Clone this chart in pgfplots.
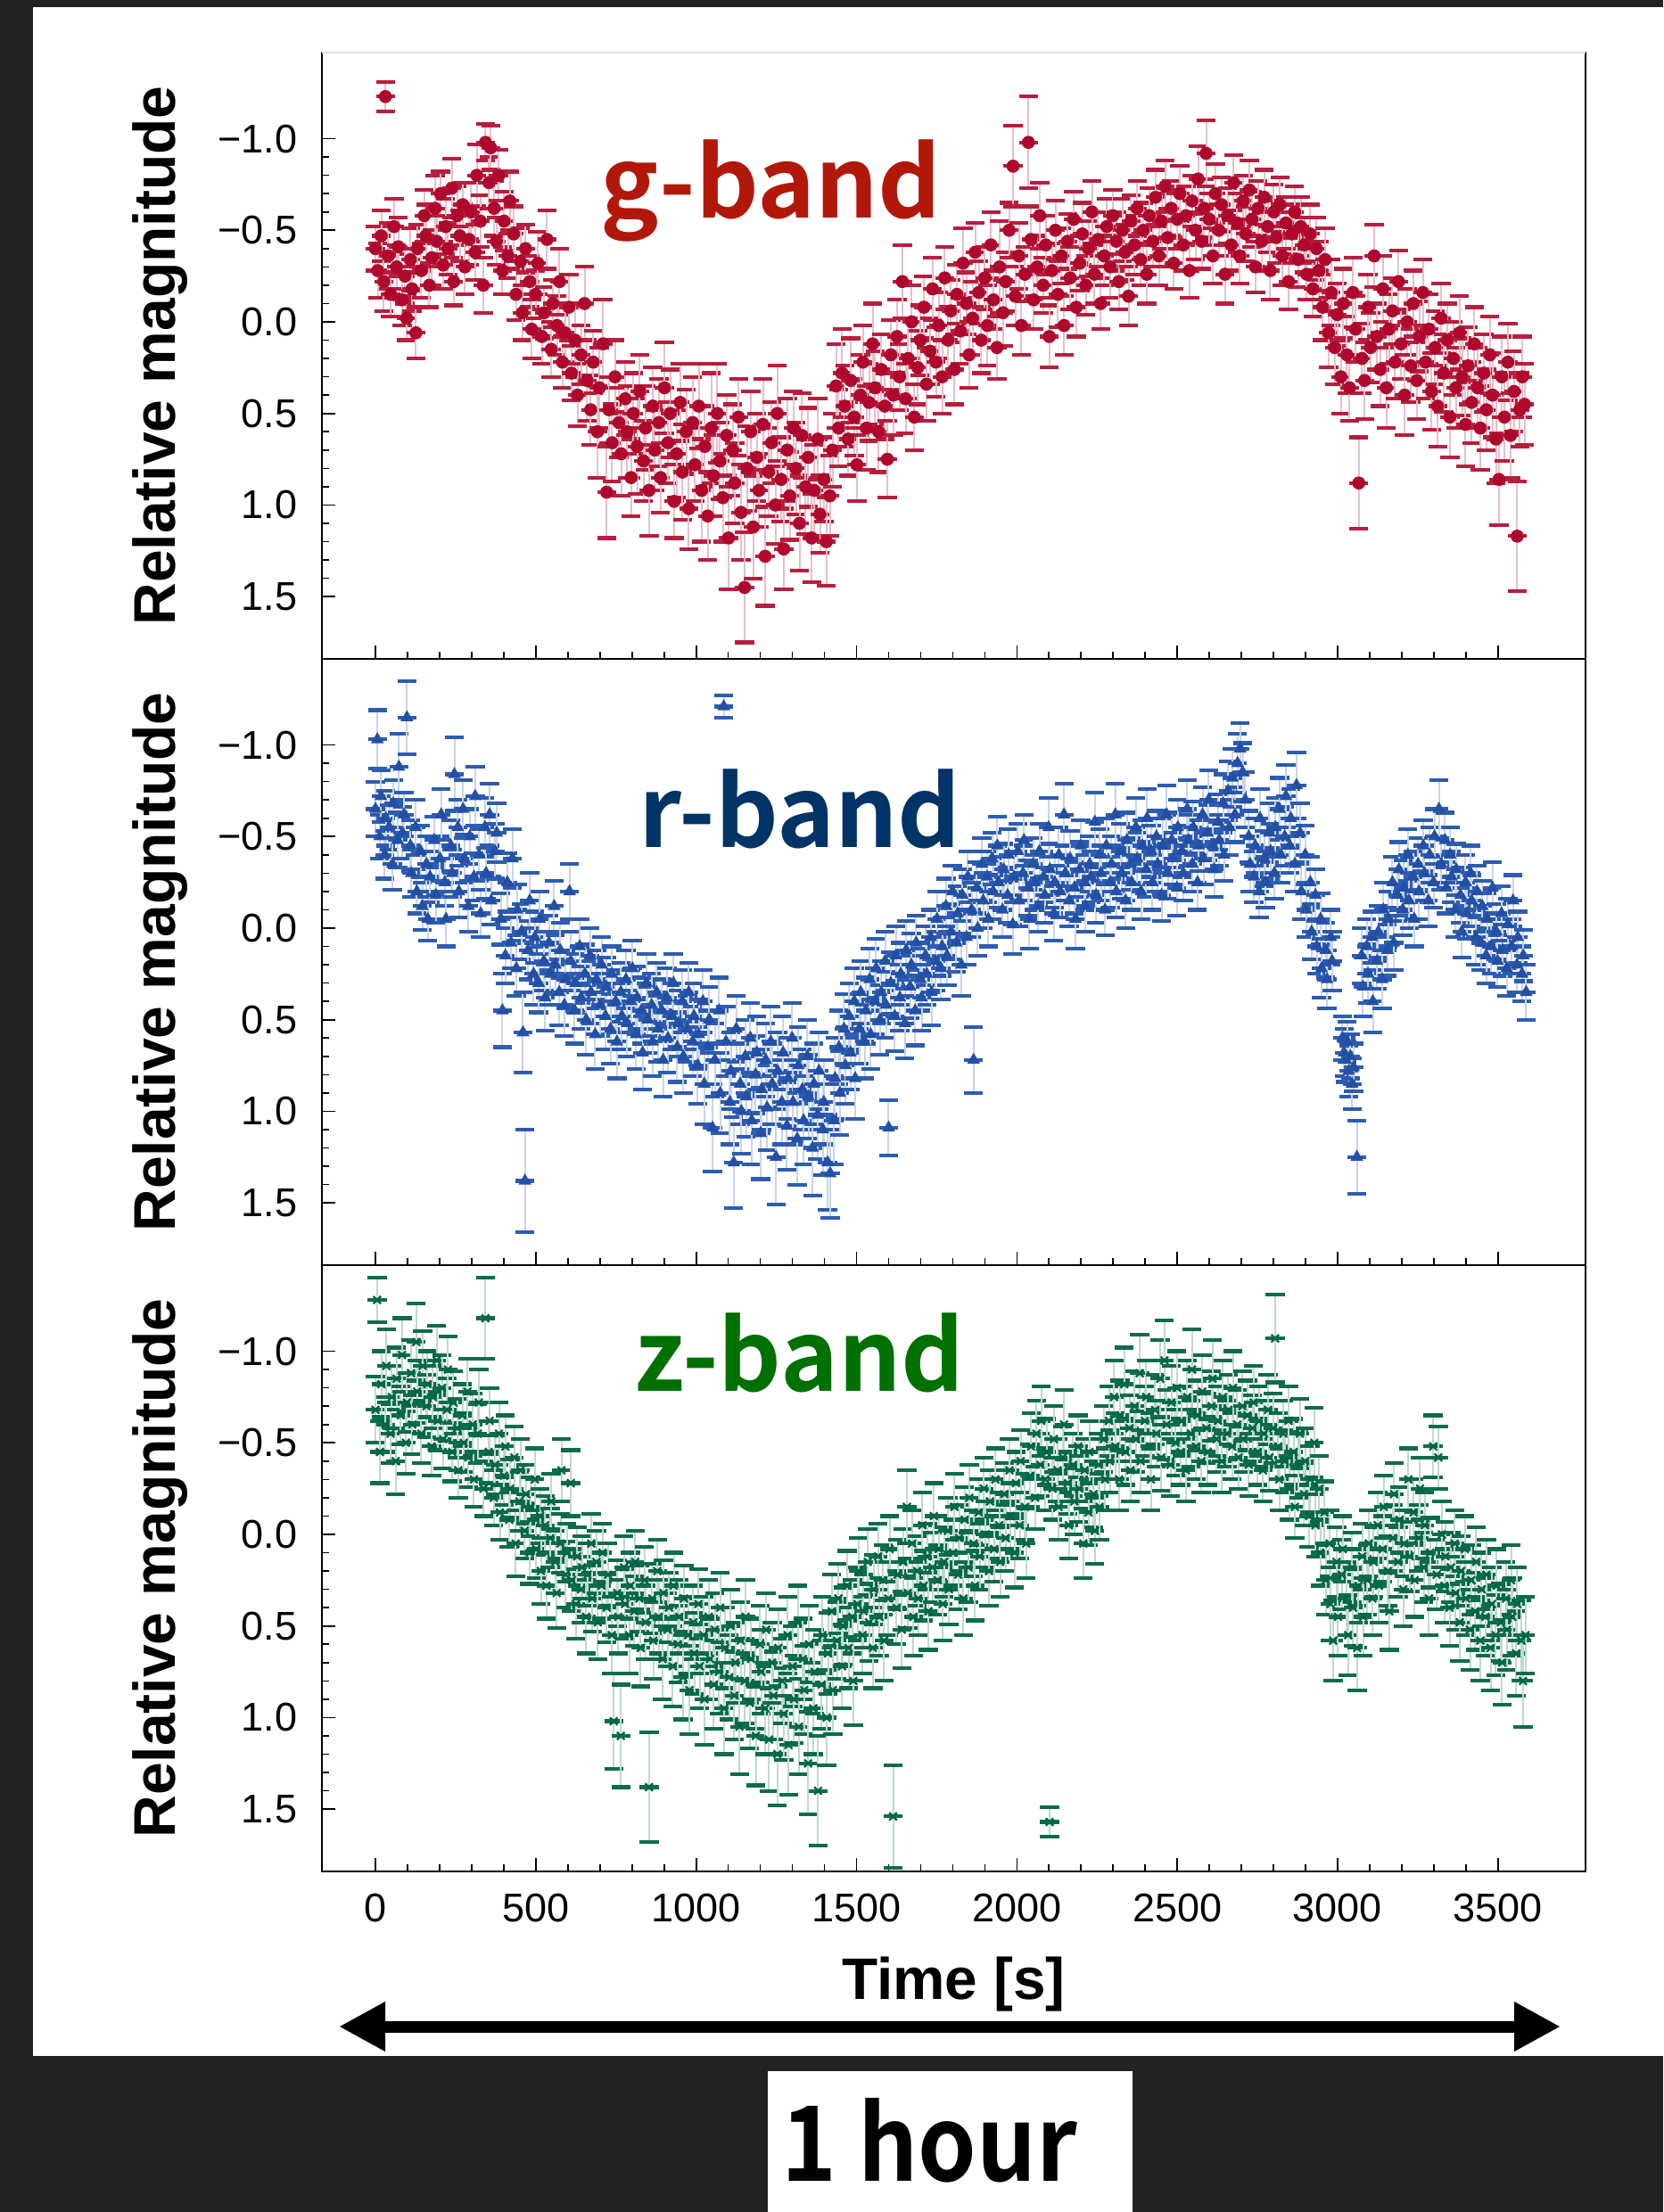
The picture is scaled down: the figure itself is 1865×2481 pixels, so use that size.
\documentclass[border=0pt]{standalone}
\usepackage{pgfplots}
\usepackage{pgfplotstable}
\usepackage{graphicx}
\pgfplotsset{compat=1.18}
\usepackage{fontspec}
\setmainfont{Liberation Sans}
\newfontfamily\cjkfont{Noto Sans CJK JP}[BoldFont={Noto Sans CJK JP Bold}]
\usetikzlibrary{arrows.meta}

\definecolor{bgdark}{RGB}{34,34,34}
\definecolor{gtext}{RGB}{178,24,10}
\definecolor{rtext}{RGB}{0,51,102}
\definecolor{ztext}{RGB}{0,112,0}
\definecolor{gmark}{RGB}{175,8,45}
\definecolor{gbar}{RGB}{232,190,202}
\definecolor{gcap}{RGB}{185,30,60}
\definecolor{rmark}{RGB}{35,80,165}
\definecolor{rbar}{RGB}{200,212,232}
\definecolor{rcap}{RGB}{45,92,178}
\definecolor{zmark}{RGB}{0,100,70}
\definecolor{zbar}{RGB}{192,216,206}
\definecolor{zcap}{RGB}{12,108,78}

\pgfkeys{/pgfplots/error bars/draw error bar/.code 2 args={%
  \draw[ebar] #1 -- #2;
  \draw[ecap] #1 ++(-3.2pt,0pt) -- ++(6.4pt,0pt) #2 ++(-3.2pt,0pt) -- ++(6.4pt,0pt);}}

\pgfplotstableread{
t m e
0 -0.40 0.12
7 -0.28 0.15
18 -0.47 0.14
26 -0.22 0.16
31 -1.23 0.08
40 -0.36 0.18
47 -0.15 0.12
58 -0.52 0.15
66 -0.30 0.12
71 -0.41 0.16
83 -0.12 0.14
92 -0.25 0.15
97 -0.02 0.12
109 -0.34 0.17
114 -0.18 0.12
126 0.06 0.14
131 -0.40 0.13
143 -0.28 0.15
152 -0.58 0.14
157 -0.47 0.17
168 -0.20 0.12
176 -0.35 0.15
186 -0.62 0.18
191 -0.44 0.14
203 -0.70 0.12
211 -0.31 0.13
219 -0.52 0.15
226 -0.40 0.14
238 -0.73 0.16
244 -0.22 0.13
255 -0.58 0.16
263 -0.47 0.14
272 -0.64 0.12
279 -0.30 0.15
292 -0.45 0.14
298 -0.60 0.16
311 -0.38 0.15
316 -0.80 0.17
327 -0.55 0.14
336 -0.20 0.15
343 -0.98 0.10
354 -0.76 0.14
359 -0.95 0.12
370 -0.62 0.15
377 -0.44 0.13
384 -0.80 0.14
396 -0.28 0.13
401 -0.55 0.16
413 -0.36 0.12
419 -0.66 0.16
431 -0.48 0.15
438 -0.15 0.14
452 -0.33 0.18
458 -0.05 0.15
468 -0.40 0.13
481 -0.22 0.14
487 0.04 0.16
499 -0.15 0.13
506 -0.32 0.17
519 0.08 0.15
526 -0.05 0.14
535 -0.45 0.16
548 0.15 0.15
553 -0.10 0.13
566 0.02 0.16
574 -0.22 0.18
583 0.22 0.14
591 0.06 0.16
603 -0.08 0.18
611 0.28 0.15
622 0.10 0.20
630 0.40 0.17
641 0.18 0.16
652 -0.10 0.20
660 0.32 0.22
671 0.48 0.19
679 0.22 0.17
692 0.60 0.25
698 0.36 0.22
709 0.12 0.24
721 0.93 0.25
728 0.48 0.18
738 0.66 0.21
747 0.30 0.20
759 0.55 0.19
766 0.72 0.23
779 0.42 0.20
785 0.60 0.25
797 0.85 0.21
804 0.50 0.22
816 0.68 0.26
824 0.38 0.20
836 0.76 0.22
842 0.58 0.23
853 0.92 0.25
865 0.46 0.21
871 0.70 0.22
884 0.55 0.24
889 0.85 0.19
901 0.36 0.25
912 0.66 0.22
919 0.50 0.24
931 0.98 0.20
939 0.72 0.24
950 0.44 0.21
957 0.82 0.26
969 0.60 0.23
977 1.02 0.22
989 0.55 0.25
996 0.78 0.20
1008 0.46 0.23
1017 0.92 0.28
1027 0.68 0.22
1036 1.06 0.24
1047 0.58 0.30
1054 0.84 0.22
1066 0.50 0.27
1074 0.76 0.21
1083 0.96 0.24
1095 0.62 0.22
1101 1.18 0.28
1114 0.70 0.25
1120 0.88 0.22
1132 0.52 0.21
1140 1.04 0.26
1151 1.45 0.30
1159 0.80 0.23
1170 0.60 0.22
1178 1.12 0.28
1189 0.74 0.24
1196 0.92 0.20
1208 0.56 0.25
1215 1.28 0.27
1226 0.82 0.24
1235 0.66 0.22
1247 1.00 0.21
1253 0.50 0.26
1265 0.86 0.23
1273 1.24 0.22
1284 0.70 0.28
1292 0.95 0.24
1303 0.58 0.20
1311 0.80 0.25
1322 1.10 0.26
1330 0.62 0.23
1341 0.90 0.26
1349 0.74 0.27
1360 1.18 0.24
1368 0.92 0.25
1379 0.64 0.22
1386 1.05 0.21
1398 0.86 0.23
1406 1.20 0.24
1417 0.95 0.22
1425 0.70 0.20
1436 0.35 0.23
1444 0.58 0.21
1455 0.28 0.24
1463 0.46 0.22
1474 0.64 0.20
1482 0.32 0.23
1493 0.52 0.21
1501 0.78 0.20
1512 0.40 0.22
1520 0.22 0.20
1531 0.58 0.23
1539 0.44 0.21
1550 0.12 0.22
1558 0.36 0.20
1569 0.60 0.22
1577 0.26 0.19
1588 0.46 0.18
1596 0.75 0.21
1607 0.18 0.19
1615 0.40 0.22
1626 0.08 0.20
1634 0.30 0.18
1643 -0.22 0.20
1653 0.42 0.19
1661 0.20 0.22
1672 0.00 0.20
1680 0.52 0.18
1691 0.25 0.20
1699 0.10 0.19
1710 -0.08 0.17
1718 0.34 0.20
1729 0.16 0.18
1737 -0.18 0.17
1748 0.22 0.19
1756 0.02 0.18
1767 0.30 0.20
1775 -0.24 0.17
1786 0.10 0.18
1794 -0.06 0.17
1805 0.26 0.19
1813 -0.15 0.16
1824 0.05 0.18
1832 -0.32 0.19
1843 -0.10 0.17
1851 0.18 0.18
1862 -0.02 0.20
1870 -0.38 0.16
1881 -0.16 0.17
1889 0.10 0.18
1900 -0.24 0.17
1908 0.02 0.22
1919 -0.42 0.18
1927 -0.12 0.16
1938 0.14 0.17
1946 -0.30 0.25
1957 -0.05 0.18
1965 -0.22 0.16
1976 -0.50 0.15
1988 -0.85 0.22
1995 -0.14 0.16
2006 -0.36 0.18
2014 0.02 0.16
2025 -0.26 0.15
2036 -0.98 0.25
2044 -0.45 0.18
2052 -0.12 0.16
2063 -0.30 0.17
2071 -0.58 0.18
2082 -0.20 0.15
2090 -0.42 0.16
2101 0.08 0.17
2109 -0.28 0.15
2120 -0.50 0.16
2128 -0.15 0.18
2139 -0.36 0.15
2147 0.02 0.16
2158 -0.44 0.15
2166 -0.24 0.17
2177 -0.56 0.15
2185 -0.08 0.16
2196 -0.32 0.15
2204 -0.48 0.17
2215 -0.20 0.16
2223 -0.40 0.15
2234 -0.60 0.17
2242 -0.26 0.16
2253 -0.45 0.15
2261 -0.10 0.14
2272 -0.36 0.16
2280 -0.52 0.15
2291 -0.30 0.17
2299 -0.58 0.14
2310 -0.44 0.16
2318 -0.22 0.15
2329 -0.50 0.17
2337 -0.38 0.15
2348 -0.14 0.16
2356 -0.55 0.14
2367 -0.42 0.16
2375 -0.62 0.15
2386 -0.34 0.14
2394 -0.50 0.15
2405 -0.26 0.16
2413 -0.58 0.15
2424 -0.44 0.14
2432 -0.68 0.15
2443 -0.36 0.16
2451 -0.55 0.15
2462 -0.74 0.14
2470 -0.46 0.16
2481 -0.62 0.15
2489 -0.32 0.14
2500 -0.56 0.16
2508 -0.70 0.15
2519 -0.42 0.14
2527 -0.58 0.16
2538 -0.28 0.15
2546 -0.66 0.14
2557 -0.50 0.16
2565 -0.78 0.18
2576 -0.44 0.15
2584 -0.62 0.16
2590 -0.92 0.18
2600 -0.56 0.14
2611 -0.36 0.15
2619 -0.70 0.16
2630 -0.50 0.14
2638 -0.64 0.15
2649 -0.26 0.16
2657 -0.58 0.15
2668 -0.42 0.14
2676 -0.76 0.15
2687 -0.54 0.16
2695 -0.36 0.15
2706 -0.66 0.14
2714 -0.48 0.15
2725 -0.72 0.16
2733 -0.56 0.15
2744 -0.30 0.14
2752 -0.62 0.15
2763 -0.44 0.16
2771 -0.68 0.15
2782 -0.52 0.14
2790 -0.28 0.16
2801 -0.60 0.15
2809 -0.46 0.14
2820 -0.64 0.15
2828 -0.36 0.16
2839 -0.54 0.14
2847 -0.22 0.15
2858 -0.48 0.16
2866 -0.60 0.14
2877 -0.34 0.15
2885 -0.52 0.16
2896 -0.42 0.15
2904 -0.26 0.14
2915 -0.48 0.16
2923 -0.18 0.15
2934 -0.40 0.17
2942 -0.28 0.16
2953 -0.08 0.18
2961 -0.34 0.17
2972 0.06 0.19
2980 -0.16 0.18
2991 0.14 0.20
2999 -0.04 0.17
3010 0.30 0.20
3018 -0.10 0.19
3029 0.18 0.21
3037 0.36 0.18
3048 -0.16 0.19
3056 0.04 0.18
3066 0.88 0.25
3076 0.20 0.19
3084 0.32 0.21
3095 -0.08 0.18
3103 0.14 0.19
3114 -0.36 0.17
3122 0.08 0.18
3133 0.26 0.20
3141 -0.18 0.18
3152 0.36 0.22
3160 0.04 0.19
3171 -0.06 0.18
3179 0.22 0.20
3190 -0.22 0.17
3198 0.12 0.19
3209 0.40 0.22
3217 0.00 0.18
3228 0.24 0.20
3236 -0.10 0.18
3247 0.32 0.21
3255 0.08 0.19
3266 -0.16 0.18
3274 0.22 0.20
3285 0.04 0.19
3293 0.38 0.21
3304 0.14 0.20
3312 0.46 0.22
3323 -0.02 0.19
3331 0.28 0.21
3342 0.10 0.20
3350 0.52 0.22
3361 0.20 0.20
3369 0.36 0.22
3380 0.06 0.20
3388 0.30 0.21
3399 0.56 0.23
3407 0.24 0.21
3418 0.44 0.22
3426 0.12 0.20
3437 0.36 0.22
3445 0.58 0.23
3456 0.28 0.21
3464 0.48 0.22
3475 0.18 0.21
3483 0.40 0.23
3494 0.64 0.24
3503 0.86 0.25
3512 0.30 0.22
3520 0.52 0.24
3531 0.22 0.21
3539 0.62 0.23
3550 0.38 0.22
3560 1.17 0.30
3568 0.48 0.20
3576 0.30 0.22
3583 0.45 0.22
}\gdata

\pgfplotstableread{
t m e
0 -0.65 0.15
6 -1.03 0.16
13 -0.50 0.12
17 -0.72 0.14
29 -0.40 0.13
32 -0.60 0.15
43 -0.55 0.12
53 -0.35 0.14
56 -0.68 0.13
69 -0.48 0.15
73 -0.88 0.18
84 -0.52 0.14
89 -0.62 0.12
98 -1.15 0.20
109 -0.45 0.14
112 -0.30 0.13
125 -0.55 0.15
129 -0.20 0.12
141 -0.42 0.14
146 -0.12 0.13
159 -0.35 0.15
163 -0.05 0.12
170 -0.28 0.14
183 -0.48 0.13
188 -0.18 0.15
201 -0.38 0.12
205 -0.62 0.14
216 -0.25 0.13
220 -0.05 0.15
235 -0.45 0.14
239 -0.30 0.13
246 -0.84 0.20
257 -0.55 0.15
260 -0.20 0.14
273 -0.65 0.16
277 -0.38 0.13
290 -0.12 0.14
294 -0.50 0.15
307 -0.28 0.13
311 -0.72 0.16
323 -0.40 0.14
328 -0.08 0.13
341 -0.55 0.16
345 -0.30 0.14
356 -0.62 0.17
361 -0.15 0.13
373 -0.42 0.15
378 -0.52 0.16
391 -0.05 0.14
396 0.45 0.20
405 0.15 0.15
411 -0.25 0.16
423 0.08 0.14
427 -0.38 0.16
439 0.22 0.15
442 -0.10 0.14
455 0.02 0.15
460 0.57 0.22
466 1.38 0.28
476 0.12 0.16
481 -0.15 0.15
493 0.25 0.17
497 0.05 0.14
509 0.30 0.16
512 -0.05 0.15
525 0.18 0.16
529 0.38 0.18
541 0.08 0.15
545 0.25 0.17
557 -0.12 0.14
561 0.20 0.16
573 0.35 0.18
576 0.12 0.15
589 0.42 0.17
593 0.28 0.16
605 -0.20 0.15
609 0.18 0.16
621 0.45 0.18
624 0.30 0.16
637 0.10 0.15
641 0.38 0.17
653 0.25 0.16
657 0.50 0.19
669 0.15 0.15
672 0.35 0.17
685 0.58 0.19
689 0.28 0.16
701 0.42 0.17
705 0.20 0.15
717 0.48 0.18
720 0.32 0.16
733 0.55 0.19
737 0.25 0.15
749 0.40 0.17
753 0.62 0.20
765 0.35 0.16
768 0.48 0.18
781 0.28 0.16
785 0.52 0.18
797 0.40 0.17
801 0.22 0.15
813 0.58 0.19
816 0.38 0.17
829 0.45 0.18
833 0.68 0.20
845 0.30 0.16
849 0.50 0.18
861 0.42 0.17
864 0.62 0.19
877 0.35 0.16
881 0.55 0.18
893 0.45 0.17
897 0.72 0.20
909 0.38 0.16
912 0.60 0.19
925 0.48 0.18
929 0.30 0.16
941 0.65 0.19
945 0.52 0.18
957 0.40 0.17
960 0.70 0.20
973 0.55 0.18
977 0.35 0.16
989 0.62 0.19
993 0.48 0.18
1005 0.75 0.21
1008 0.58 0.19
1021 0.40 0.17
1025 0.85 0.22
1037 0.65 0.20
1041 0.50 0.18
1051 1.09 0.24
1058 0.72 0.20
1071 0.45 0.18
1075 0.90 0.22
1086 -1.21 0.06
1093 0.62 0.19
1105 0.95 0.23
1108 0.78 0.21
1117 1.28 0.25
1125 0.55 0.18
1137 0.85 0.22
1141 1.00 0.23
1153 0.70 0.20
1156 0.92 0.22
1169 0.60 0.19
1173 1.05 0.24
1185 0.80 0.21
1189 0.68 0.20
1201 1.12 0.25
1204 0.88 0.22
1217 0.72 0.20
1221 0.98 0.23
1233 0.62 0.19
1237 0.85 0.22
1249 1.25 0.26
1254 0.78 0.21
1267 0.95 0.23
1271 0.68 0.20
1283 1.08 0.24
1287 0.82 0.22
1299 0.60 0.19
1302 0.95 0.23
1315 1.15 0.25
1319 0.75 0.21
1331 0.88 0.22
1335 1.05 0.24
1347 0.70 0.20
1350 0.92 0.23
1363 1.20 0.26
1367 0.85 0.22
1379 1.02 0.24
1383 0.78 0.21
1395 1.10 0.25
1398 0.95 0.23
1410 1.28 0.26
1418 1.34 0.24
1429 1.05 0.24
1433 0.82 0.22
1445 0.65 0.20
1448 0.90 0.23
1461 0.55 0.19
1465 0.75 0.21
1477 0.48 0.18
1481 0.68 0.20
1493 0.40 0.18
1496 0.82 0.22
1509 0.55 0.19
1513 0.35 0.17
1525 0.62 0.20
1529 0.45 0.18
1541 0.28 0.17
1544 0.58 0.19
1557 0.40 0.18
1561 0.22 0.16
1573 0.50 0.19
1577 0.35 0.17
1589 0.18 0.16
1592 0.42 0.18
1600 1.09 0.15
1607 0.30 0.17
1619 0.48 0.19
1623 0.15 0.16
1635 0.38 0.18
1638 0.25 0.17
1651 0.52 0.19
1655 0.12 0.16
1667 0.32 0.17
1671 0.20 0.17
1683 0.45 0.19
1686 0.08 0.15
1699 0.28 0.17
1703 0.38 0.18
1715 0.15 0.16
1719 0.25 0.17
1731 0.05 0.15
1734 0.35 0.18
1747 0.18 0.16
1751 -0.05 0.15
1763 0.22 0.17
1767 0.10 0.16
1779 -0.12 0.15
1782 0.15 0.16
1795 0.02 0.15
1799 -0.20 0.14
1811 0.08 0.16
1815 -0.08 0.15
1827 0.20 0.17
1830 -0.18 0.14
1843 0.05 0.15
1847 -0.28 0.14
1859 -0.10 0.15
1865 0.72 0.18
1875 -0.22 0.14
1878 0.00 0.15
1891 -0.35 0.14
1895 -0.15 0.15
1907 -0.28 0.14
1911 -0.05 0.15
1923 -0.38 0.14
1926 -0.20 0.15
1939 -0.45 0.16
1943 -0.25 0.14
1955 -0.10 0.15
1959 -0.32 0.14
1971 -0.18 0.15
1974 -0.40 0.14
1987 -0.02 0.16
1991 -0.28 0.14
2003 -0.42 0.15
2007 -0.15 0.14
2019 -0.30 0.15
2022 -0.48 0.14
2035 -0.22 0.15
2039 -0.05 0.16
2051 -0.35 0.14
2055 -0.25 0.15
2067 -0.12 0.14
2070 -0.42 0.15
2083 -0.28 0.14
2087 -0.18 0.15
2099 -0.55 0.16
2103 -0.32 0.14
2115 -0.08 0.15
2118 -0.25 0.14
2131 -0.40 0.15
2135 -0.20 0.14
2147 -0.62 0.17
2151 -0.30 0.15
2163 -0.15 0.14
2166 -0.38 0.15
2179 -0.22 0.14
2183 -0.05 0.16
2195 -0.32 0.15
2199 -0.45 0.14
2211 -0.25 0.15
2214 -0.12 0.14
2227 -0.35 0.15
2231 -0.28 0.14
2243 -0.58 0.16
2247 -0.18 0.15
2259 -0.40 0.14
2262 -0.30 0.15
2275 -0.10 0.14
2279 -0.45 0.15
2291 -0.25 0.14
2295 -0.35 0.15
2307 -0.62 0.17
2310 -0.20 0.14
2323 -0.42 0.15
2327 -0.30 0.14
2339 -0.15 0.15
2343 -0.48 0.15
2355 -0.35 0.14
2358 -0.25 0.15
2371 -0.55 0.16
2375 -0.38 0.14
2387 -0.20 0.15
2391 -0.45 0.14
2403 -0.32 0.15
2406 -0.60 0.16
2419 -0.42 0.14
2423 -0.25 0.15
2435 -0.50 0.14
2439 -0.35 0.15
2451 -0.18 0.14
2454 -0.45 0.15
2467 -0.62 0.16
2471 -0.30 0.14
2483 -0.48 0.15
2487 -0.38 0.14
2499 -0.22 0.15
2502 -0.55 0.15
2515 -0.42 0.14
2519 -0.30 0.15
2531 -0.65 0.16
2535 -0.48 0.14
2547 -0.35 0.15
2550 -0.55 0.14
2563 -0.25 0.15
2567 -0.45 0.14
2579 -0.62 0.15
2583 -0.38 0.14
2595 -0.52 0.15
2598 -0.70 0.16
2611 -0.45 0.14
2615 -0.32 0.15
2627 -0.58 0.15
2631 -0.48 0.14
2643 -0.68 0.16
2646 -0.40 0.14
2659 -0.75 0.16
2663 -0.55 0.15
2672 -0.82 0.16
2680 -0.62 0.15
2688 -0.90 0.16
2696 -0.98 0.14
2704 -0.85 0.16
2712 -0.70 0.15
2723 -0.50 0.14
2727 -0.35 0.15
2739 -0.28 0.14
2743 -0.45 0.15
2755 -0.20 0.14
2758 -0.60 0.16
2771 -0.38 0.15
2775 -0.25 0.14
2787 -0.52 0.16
2791 -0.42 0.15
2803 -0.30 0.14
2806 -0.55 0.16
2819 -0.65 0.17
2823 -0.40 0.15
2835 -0.50 0.16
2839 -0.72 0.17
2851 -0.45 0.15
2854 -0.60 0.16
2867 -0.35 0.15
2872 -0.78 0.18
2883 -0.52 0.16
2887 -0.20 0.15
2899 -0.40 0.16
2902 -0.10 0.15
2915 -0.25 0.14
2919 0.02 0.15
2931 -0.18 0.14
2935 0.10 0.15
2947 -0.05 0.14
2950 0.22 0.16
2963 0.12 0.15
2967 0.28 0.16
2979 0.05 0.15
2983 0.18 0.16
3015 0.60 0.12
3020 0.68 0.13
3025 0.72 0.12
3030 0.62 0.11
3035 0.78 0.14
3040 0.70 0.12
3045 0.85 0.14
3050 0.76 0.13
3060 1.25 0.20
3075 0.15 0.15
3079 0.32 0.16
3091 0.10 0.15
3095 0.25 0.16
3107 0.05 0.14
3110 0.40 0.17
3123 0.18 0.15
3127 0.02 0.14
3139 0.28 0.16
3143 -0.10 0.15
3155 0.12 0.14
3158 -0.05 0.15
3171 -0.25 0.14
3175 0.08 0.15
3187 -0.18 0.14
3191 -0.32 0.15
3203 -0.10 0.14
3206 -0.22 0.15
3219 -0.40 0.14
3223 -0.15 0.15
3235 -0.28 0.14
3239 -0.05 0.15
3251 -0.35 0.14
3254 -0.20 0.15
3267 -0.45 0.14
3271 -0.30 0.15
3283 -0.15 0.14
3287 -0.40 0.15
3299 -0.25 0.14
3302 -0.50 0.15
3316 -0.65 0.16
3323 -0.35 0.14
3335 -0.48 0.15
3339 -0.22 0.14
3351 -0.40 0.15
3355 -0.28 0.14
3367 -0.10 0.15
3370 -0.32 0.14
3383 -0.18 0.15
3387 0.02 0.14
3399 -0.25 0.15
3403 -0.08 0.14
3415 -0.30 0.15
3418 -0.15 0.14
3431 0.05 0.15
3435 -0.20 0.14
3447 0.08 0.15
3451 -0.12 0.14
3463 0.15 0.15
3466 -0.05 0.14
3479 0.10 0.15
3483 -0.22 0.14
3495 0.02 0.15
3499 0.18 0.14
3511 -0.08 0.15
3514 0.12 0.14
3527 0.22 0.15
3531 -0.02 0.14
3543 0.10 0.15
3547 -0.15 0.14
3559 0.20 0.15
3562 0.05 0.14
3575 0.25 0.15
3579 0.15 0.14
3588 0.35 0.15
}\rdata

\pgfplotstableread{
t m e
0 -0.68 0.18
5 -1.28 0.12
14 -0.45 0.17
18 -0.82 0.18
31 -0.60 0.15
34 -0.92 0.20
47 -0.55 0.16
51 -0.75 0.17
63 -0.40 0.18
66 -0.85 0.17
79 -0.65 0.16
83 -0.98 0.20
95 -0.50 0.17
98 -0.72 0.16
111 -0.88 0.18
115 -0.60 0.16
127 -1.05 0.21
130 -0.78 0.17
143 -0.55 0.16
147 -0.92 0.19
159 -0.70 0.17
162 -0.82 0.18
175 -0.48 0.16
179 -0.75 0.17
191 -0.95 0.19
194 -0.62 0.16
207 -0.80 0.18
211 -0.52 0.16
223 -0.68 0.17
226 -0.90 0.18
239 -0.45 0.16
243 -0.72 0.17
255 -0.58 0.16
258 -0.35 0.15
271 -0.65 0.17
275 -0.50 0.16
287 -0.78 0.18
290 -0.42 0.16
303 -0.60 0.17
307 -0.30 0.15
319 -0.55 0.16
322 -0.72 0.18
337 -0.25 0.15
343 -1.18 0.22
353 -0.45 0.17
356 -0.62 0.18
369 -0.20 0.15
373 -0.38 0.16
385 -0.55 0.17
388 -0.12 0.15
401 -0.32 0.16
405 -0.48 0.17
417 -0.08 0.15
420 -0.25 0.16
433 -0.42 0.17
437 0.05 0.18
449 -0.18 0.16
452 -0.35 0.17
465 -0.02 0.15
469 -0.22 0.16
481 0.10 0.17
484 -0.15 0.16
497 -0.30 0.17
501 0.08 0.16
513 -0.10 0.15
516 0.20 0.18
529 -0.05 0.16
533 0.28 0.18
545 0.02 0.16
548 -0.18 0.15
561 0.15 0.17
565 0.32 0.19
577 0.05 0.16
580 -0.35 0.17
593 0.22 0.18
597 0.10 0.16
609 -0.28 0.18
612 0.25 0.17
625 0.38 0.19
629 0.12 0.16
641 0.30 0.18
644 0.18 0.17
657 0.45 0.20
661 0.22 0.17
673 0.05 0.16
676 0.35 0.18
689 0.15 0.17
693 0.48 0.20
705 0.28 0.18
708 0.10 0.16
721 0.40 0.19
725 0.22 0.17
737 0.55 0.21
743 1.02 0.26
754 0.32 0.18
757 0.45 0.20
765 1.10 0.28
775 0.18 0.17
778 0.38 0.19
791 0.55 0.21
795 0.28 0.18
807 0.42 0.19
810 0.15 0.17
823 0.35 0.18
827 0.62 0.21
839 0.25 0.18
842 0.48 0.20
853 1.38 0.30
863 0.35 0.19
866 0.58 0.21
879 0.20 0.17
883 0.45 0.20
895 0.68 0.22
898 0.32 0.18
911 0.52 0.20
915 0.40 0.19
927 0.72 0.22
930 0.28 0.18
943 0.60 0.21
947 0.45 0.20
959 0.78 0.23
962 0.35 0.18
975 0.55 0.21
979 0.85 0.24
991 0.48 0.20
994 0.65 0.22
1007 0.38 0.19
1011 0.72 0.23
1023 0.55 0.21
1026 0.90 0.25
1039 0.45 0.20
1043 0.68 0.22
1055 0.82 0.24
1058 0.52 0.20
1071 0.75 0.23
1075 0.40 0.19
1087 0.95 0.25
1090 0.62 0.22
1103 0.78 0.23
1107 0.50 0.20
1119 0.88 0.24
1122 0.70 0.22
1135 1.05 0.26
1139 0.58 0.21
1151 0.80 0.23
1154 0.45 0.20
1167 0.92 0.25
1171 0.68 0.22
1183 0.82 0.24
1186 1.10 0.27
1199 0.60 0.21
1203 0.75 0.23
1215 0.95 0.25
1218 0.52 0.20
1227 1.12 0.28
1237 0.70 0.22
1241 0.88 0.24
1253 1.20 0.28
1256 0.62 0.21
1269 0.80 0.23
1273 0.98 0.25
1285 0.55 0.21
1288 1.15 0.27
1301 0.72 0.22
1305 0.90 0.24
1317 0.48 0.20
1320 1.05 0.26
1333 0.68 0.22
1337 0.85 0.24
1349 1.25 0.28
1352 0.60 0.21
1365 0.95 0.25
1369 0.75 0.23
1380 1.40 0.30
1391 0.82 0.24
1394 0.55 0.21
1407 1.00 0.26
1411 0.65 0.22
1423 0.42 0.20
1426 0.85 0.24
1439 0.58 0.21
1443 0.35 0.19
1455 0.72 0.23
1458 0.50 0.21
1471 0.28 0.19
1475 0.62 0.22
1487 0.45 0.20
1490 0.80 0.24
1503 0.38 0.20
1507 0.20 0.18
1519 0.55 0.21
1522 0.42 0.20
1535 0.15 0.18
1539 0.48 0.21
1551 0.62 0.22
1554 0.30 0.19
1567 0.12 0.18
1571 0.45 0.21
1583 0.25 0.19
1586 0.58 0.22
1599 0.35 0.20
1603 0.08 0.18
1614 1.54 0.28
1625 0.40 0.20
1628 0.22 0.19
1641 0.52 0.21
1645 0.15 0.18
1657 -0.15 0.20
1660 0.32 0.19
1673 0.05 0.18
1677 0.45 0.21
1689 0.20 0.19
1692 0.35 0.20
1705 -0.05 0.18
1709 0.28 0.19
1721 0.12 0.18
1724 0.42 0.21
1737 0.18 0.19
1741 -0.10 0.18
1753 0.25 0.19
1756 0.08 0.18
1769 0.38 0.20
1773 0.15 0.19
1785 -0.02 0.18
1788 0.30 0.19
1801 0.10 0.18
1805 -0.15 0.18
1817 0.22 0.19
1820 0.02 0.18
1833 0.35 0.20
1837 -0.08 0.18
1849 0.18 0.19
1852 -0.20 0.18
1865 0.05 0.18
1869 0.28 0.19
1881 -0.12 0.18
1884 0.12 0.18
1897 -0.25 0.17
1901 0.00 0.18
1913 0.20 0.19
1916 -0.18 0.17
1929 0.08 0.18
1933 -0.30 0.17
1945 -0.05 0.18
1948 0.15 0.19
1961 -0.22 0.17
1965 0.02 0.18
1977 -0.35 0.17
1980 -0.10 0.18
1993 0.10 0.19
1997 -0.28 0.17
2009 -0.05 0.18
2012 -0.40 0.17
2025 -0.15 0.18
2029 0.05 0.19
2041 -0.32 0.17
2044 -0.48 0.18
2057 -0.20 0.17
2061 -0.55 0.18
2073 -0.38 0.17
2076 -0.62 0.19
2089 -0.30 0.17
2093 -0.45 0.18
2102 1.57 0.08
2111 -0.25 0.17
2115 -0.52 0.18
2127 -0.35 0.17
2130 -0.15 0.18
2143 -0.42 0.17
2147 -0.60 0.19
2159 -0.28 0.17
2162 -0.05 0.18
2175 -0.38 0.17
2179 -0.18 0.18
2191 -0.48 0.17
2194 -0.25 0.18
2207 0.05 0.19
2211 -0.35 0.17
2223 -0.12 0.18
2226 -0.45 0.17
2239 -0.22 0.18
2243 -0.02 0.18
2255 -0.38 0.17
2258 -0.15 0.18
2271 -0.52 0.18
2275 -0.30 0.17
2287 -0.62 0.19
2290 -0.40 0.17
2303 -0.75 0.20
2307 -0.48 0.18
2319 -0.30 0.17
2322 -0.65 0.19
2335 -0.82 0.20
2339 -0.45 0.18
2351 -0.58 0.18
2354 -0.35 0.17
2367 -0.70 0.19
2371 -0.52 0.18
2383 -0.88 0.21
2386 -0.40 0.17
2399 -0.62 0.19
2403 -0.75 0.20
2415 -0.48 0.18
2418 -0.30 0.17
2431 -0.68 0.19
2435 -0.55 0.18
2447 -0.85 0.21
2450 -0.42 0.18
2460 -0.95 0.22
2467 -0.60 0.19
2479 -0.38 0.17
2482 -0.72 0.20
2495 -0.50 0.18
2499 -0.80 0.20
2511 -0.45 0.18
2514 -0.62 0.19
2527 -0.35 0.17
2531 -0.75 0.20
2543 -0.55 0.18
2546 -0.90 0.22
2559 -0.48 0.18
2563 -0.65 0.19
2575 -0.40 0.17
2578 -0.78 0.20
2591 -0.58 0.19
2595 -0.45 0.18
2607 -0.70 0.19
2610 -0.85 0.21
2623 -0.52 0.18
2627 -0.62 0.19
2639 -0.40 0.17
2642 -0.75 0.20
2655 -0.55 0.18
2659 -0.68 0.19
2671 -0.48 0.18
2674 -0.80 0.20
2687 -0.60 0.19
2691 -0.42 0.17
2703 -0.70 0.19
2706 -0.52 0.18
2719 -0.65 0.19
2723 -0.38 0.17
2735 -0.58 0.18
2738 -0.72 0.20
2751 -0.45 0.18
2755 -0.62 0.19
2767 -0.35 0.17
2770 -0.55 0.18
2783 -0.68 0.19
2787 -0.42 0.18
2799 -0.58 0.19
2805 -1.07 0.24
2815 -0.48 0.18
2818 -0.30 0.17
2831 -0.55 0.18
2835 -0.40 0.17
2847 -0.62 0.19
2850 -0.25 0.17
2863 -0.45 0.18
2867 -0.15 0.17
2879 -0.38 0.18
2882 -0.55 0.19
2895 -0.22 0.17
2899 -0.40 0.18
2911 -0.10 0.17
2914 -0.30 0.18
2927 -0.50 0.19
2931 -0.05 0.17
2943 -0.25 0.18
2946 0.10 0.18
2959 -0.12 0.17
2963 0.25 0.19
2975 0.05 0.18
2978 0.38 0.20
2986 0.58 0.22
2997 0.15 0.19
3001 0.45 0.21
3013 0.22 0.19
3016 0.08 0.18
3029 0.35 0.20
3033 0.55 0.22
3045 0.18 0.19
3048 0.40 0.21
3061 0.62 0.23
3065 0.28 0.20
3077 0.12 0.18
3080 0.45 0.21
3093 0.25 0.19
3097 0.05 0.18
3109 0.35 0.20
3112 0.15 0.19
3125 -0.05 0.18
3129 0.28 0.20
3141 0.08 0.18
3144 -0.15 0.17
3157 0.20 0.19
3161 0.42 0.21
3173 0.02 0.18
3176 -0.22 0.17
3189 0.15 0.19
3193 -0.08 0.18
3205 0.30 0.20
3208 0.05 0.18
3221 -0.30 0.17
3225 0.12 0.19
3237 -0.12 0.18
3240 0.25 0.20
3253 0.02 0.18
3257 -0.25 0.17
3269 0.18 0.19
3272 -0.05 0.18
3285 0.35 0.20
3289 0.10 0.19
3298 -0.48 0.17
3309 0.22 0.19
3314 -0.42 0.17
3325 0.00 0.18
3333 0.28 0.20
3336 0.12 0.19
3349 0.40 0.21
3353 0.18 0.19
3365 0.05 0.18
3368 0.32 0.20
3381 0.48 0.21
3385 0.20 0.19
3397 0.08 0.18
3400 0.35 0.20
3413 0.52 0.22
3417 0.25 0.19
3429 0.42 0.21
3432 0.15 0.19
3445 0.58 0.22
3449 0.30 0.20
3461 0.45 0.21
3464 0.22 0.19
3477 0.62 0.23
3481 0.38 0.20
3493 0.55 0.22
3496 0.28 0.20
3509 0.48 0.21
3513 0.70 0.23
3525 0.35 0.20
3528 0.52 0.22
3541 0.25 0.19
3545 0.45 0.21
3557 0.65 0.23
3560 0.38 0.20
3573 0.58 0.22
3578 0.80 0.25
3586 0.55 0.21
}\zdata

\pgfplotsset{
  panel/.style={
    scale only axis, width=425.1pt, height=204pt,
    anchor=center,
    xmin=-167, xmax=3773, ymin=-1.84, ymax=1.47,
    xtick={0,500,1000,1500,2000,2500,3000,3500},
    ytick={-1.5,-1,-0.5,0,0.5,1},
    yticklabels={1.5,1.0,0.5,0.0,−0.5,−1.0},
    minor x tick num=4, minor y tick num=4,
    major tick length=4.5pt, minor tick length=2.4pt,
    xtick pos=left, ytick pos=left,
    tick style={black, line width=0.5pt},
    axis line style={black, line width=0.6pt},
    tick label style={font=\fontsize{13.5pt}{14pt}\selectfont},
    yticklabel style={anchor=east, inner sep=0pt, xshift=-8.1pt},
    xticklabel style={anchor=base, inner sep=0pt, yshift=-16.8pt},
    xticklabels={},
  },
}

\begin{document}
\begin{tikzpicture}[x=0.3pt, y=-0.3pt]
\useasboundingbox (0,0) rectangle (1865,2481);
\fill[bgdark] (0,0) rectangle (1865,2481);
\fill[white] (37,8) rectangle (1865,2306);
\fill[white] (861,2323) rectangle (1270,2481);

% g-band
\tikzset{ebar/.style={draw=gbar, line width=0.6pt}, ecap/.style={draw=gcap, line width=1.25pt}}
\begin{axis}[panel, at={(320.85pt,-119.7pt)}]
\addplot[only marks, mark=*, mark size=2pt, color=gmark,
  error bars/.cd, y dir=both, y explicit]
  table[x=t, y expr=-\thisrow{m}, y error=e] {\gdata};
\end{axis}

% r-band
\tikzset{ebar/.style={draw=rbar, line width=0.6pt}, ecap/.style={draw=rcap, line width=1.25pt}}
\begin{axis}[panel, at={(320.85pt,-323.7pt)}]
\addplot[only marks, mark=triangle*, mark size=2.1pt, color=rmark,
  error bars/.cd, y dir=both, y explicit]
  table[x=t, y expr=-\thisrow{m}, y error=e] {\rdata};
\end{axis}

% z-band
\tikzset{ebar/.style={draw=zbar, line width=0.6pt}, ecap/.style={draw=zcap, line width=1.25pt}}
\begin{axis}[panel, at={(320.85pt,-527.7pt)},
  xticklabels={0,500,1000,1500,2000,2500,3000,3500}]
\addplot[only marks, mark=x, mark size=1.8pt, color=zmark, line width=0.7pt,
  error bars/.cd, y dir=both, y explicit]
  table[x=t, y expr=-\thisrow{m}, y error=e] {\zdata};
\end{axis}

\draw[black!12, line width=0.8pt] (361,59) -- (1778,59);

\foreach \yc in {399,1079,1759}{
  \node[rotate=90, inner sep=0pt, font=\bfseries\fontsize{19.8pt}{20pt}\selectfont] at (180,\yc) {Relative magnitude};
}
\node[anchor=base, inner sep=0pt, font=\bfseries\fontsize{19.7pt}{20pt}\selectfont] at (1069.5,2242) {Time [s]};

\node[anchor=base west, inner sep=0pt, text=gtext, font=\cjkfont\bfseries\fontsize{33pt}{33pt}\selectfont] at (673,244) {g-band};
\node[anchor=base west, inner sep=0pt, text=rtext, font=\cjkfont\bfseries\fontsize{33pt}{33pt}\selectfont] at (716,950) {r-band};
\node[anchor=base west, inner sep=0pt, text=ztext, font=\cjkfont\bfseries\fontsize{33pt}{33pt}\selectfont] at (711,1560) {z-band};

\draw[line width=3.9pt, {Triangle[length=15.6pt,width=15.6pt]}-{Triangle[length=15.6pt,width=15.6pt]}] (380,2273) -- (1750,2273);

\node[anchor=base west, inner sep=0pt, font=\cjkfont\bfseries\fontsize{35pt}{35pt}\selectfont] at (876,2446) {\scalebox{0.9}[1]{1 hour}};
\end{tikzpicture}
\end{document}
